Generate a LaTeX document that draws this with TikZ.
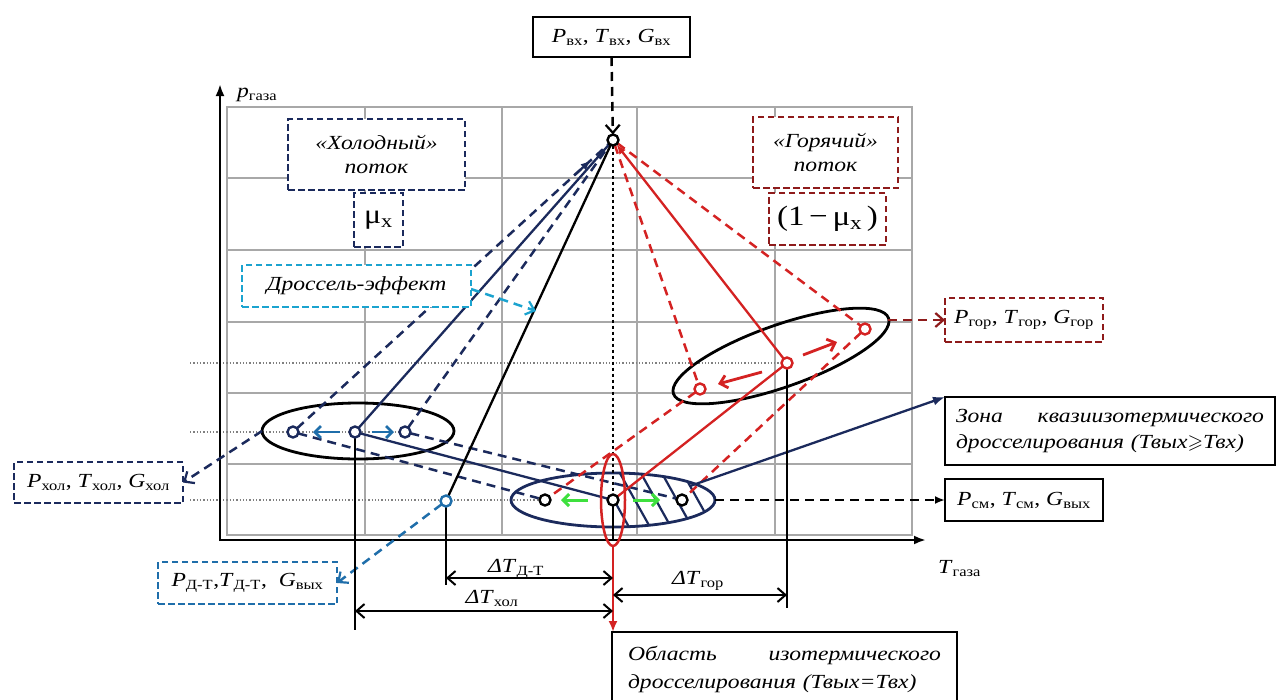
\documentclass[tikz,border=0pt]{standalone}
\usepackage{amssymb}
\usepackage{fontspec}
\setmainfont{Liberation Serif}[FakeStretch=1.18]
\usetikzlibrary{arrows.meta,calc}
\pgfdeclarelayer{paper}
\pgfdeclarelayer{gridlayer}
\pgfdeclarelayer{linelayer}
\pgfsetlayers{paper,gridlayer,linelayer,main}
\definecolor{cnavy}{HTML}{1B2A5C}
\definecolor{cdred}{HTML}{8E1B1B}
\definecolor{cred}{HTML}{D42222}
\definecolor{ccyan}{HTML}{1BA3CF}
\definecolor{cblue}{HTML}{1F6EAA}
\definecolor{cgreen}{HTML}{3EE03E}
\definecolor{cgrid}{HTML}{A8A8A8}
\newcommand\sbs[1]{\textsubscript{\upshape #1}}
\begin{document}
\begin{tikzpicture}[x=1pt,y=-1pt,
 every node/.style={font=\fontsize{20}{24}\selectfont, inner sep=0pt, outer sep=0pt},
 gridl/.style={cgrid, line width=1.3},
 dotl/.style={gray, line width=1.3, dotted},
 box/.style={draw, line width=2.6, fill=white, align=center},
 dbox/.style={box, dash pattern=on 6.5pt off 3.5pt},
 pt/.style={circle, draw, line width=2.4, fill=white, minimum size=11, inner sep=0pt},
 ln/.style={line width=2.3},
 dl/.style={line width=2.5, dash pattern=on 9pt off 6pt},
 barb/.style={-{Straight Barb[length=8pt,width=14pt,line width=2.2pt]}},
 tri/.style={-{Latex[length=10pt,width=8pt]}},
 dim/.style={line width=2, {Straight Barb[length=8pt,width=14pt]}-{Straight Barb[length=8pt,width=14pt]}},
]
\useasboundingbox (0,0) rectangle (1279,699);
\begin{pgfonlayer}{paper}
\fill[white] (0,0) rectangle (1279,699);
\end{pgfonlayer}

% ---------- grid ----------
\begin{pgfonlayer}{gridlayer}
\foreach \x in {365,502,637,775} \draw[gridl] (\x,107) -- (\x,535);
\foreach \y in {178,250,322,393,464} \draw[gridl] (227,\y) -- (912,\y);
\draw[gridl] (227,107) rectangle (912,535);
\draw[dotl] (190,363) -- (787,363);
\draw[dotl] (190,432) -- (405,432);
\draw[dotl] (190,500) -- (545,500);
\end{pgfonlayer}

% ---------- points ----------
\node[pt] (T0) at (613,140) {};
\node[pt, draw=cnavy] (CL) at (293,432) {};
\node[pt, draw=cnavy] (CC) at (355,432) {};
\node[pt, draw=cnavy] (CR) at (405,432) {};
\node[pt] (ML) at (545,500) {};
\node[pt] (MC) at (613,500) {};
\node[pt] (MR) at (682,500) {};
\node[pt, draw=cred] (HL) at (700,389) {};
\node[pt, draw=cred] (HC) at (787,363) {};
\node[pt, draw=cred] (HR) at (865,329) {};
\node[pt, draw=cblue] (DT) at (446,501) {};

% ---------- boxes ----------
\node[box, minimum width=157, minimum height=40] (top) at (611.5,37)
  {\textit{P}\sbs{вх}, \textit{T}\sbs{вх}, \textit{G}\sbs{вх}};
\node[dbox, draw=cnavy, minimum width=177, minimum height=71] (cold) at (376.5,154.5)
  {\textit{«Холодный»}\\\textit{поток}};
\node[dbox, draw=cnavy, minimum width=49, minimum height=54, font=\fontsize{27}{28}\selectfont] (mux) at (378.5,220)
  {μ\sbs{x}};
\node[dbox, draw=cdred, minimum width=145, minimum height=71] (hot) at (825.5,152.5)
  {\textit{«Горячий»}\\\textit{поток}};
\node[dbox, draw=cdred, minimum width=117, minimum height=52, font=\fontsize{28}{30}\selectfont] (omx) at (827.5,219)
  {(1\,−\,μ\sbs{x}\,)};
\node[dbox, draw=ccyan, minimum width=229, minimum height=42] (dross) at (356.5,286)
  {\textit{Дроссель-эффект}};
\node[dbox, draw=cnavy, minimum width=169, minimum height=41] (pxol) at (98.5,482.5)
  {\textit{P}\sbs{хол}, \textit{T}\sbs{хол}, \textit{G}\sbs{хол}};
\node[dbox, draw=cblue, minimum width=179, minimum height=42] (pdt) at (247.5,583)
  {\textit{P}\sbs{Д-Т},\textit{T}\sbs{Д-Т},\ \ \textit{G}\sbs{вых}};
\node[dbox, draw=cdred, minimum width=158, minimum height=44] (pgor) at (1024,320)
  {\textit{P}\sbs{гор}, \textit{T}\sbs{гор}, \textit{G}\sbs{гор}};
\node[box, anchor=north west, minimum height=68, text width=308, inner xsep=11, align=left,
  font=\fontsize{20}{26}\selectfont\itshape] (zone) at (945,397)
  {Зона\hfill квазиизотермического\\дросселирования (Твых$\geqslant$Твх)};
\node[box, minimum width=158, minimum height=42] (psm) at (1024,500)
  {\textit{P}\sbs{см}, \textit{T}\sbs{см}, \textit{G}\sbs{вых}};
\node[box, anchor=north west, minimum height=75, text width=313, inner xsep=16, align=left,
  font=\fontsize{20}{28}\selectfont\itshape] (obl) at (612,632)
  {Область\hfill изотермического\\дросселирования (Твых=Твх)};

% ---------- labels ----------
\node[anchor=base west] (py) at (237,97) {\textit{p}\sbs{газа}};
\node[anchor=base west] (tx) at (938,573) {\textit{T}\sbs{газа}};
\node[anchor=base] (ldt) at (516,572) {\textit{ΔT}\sbs{Д-Т}};
\node[anchor=base] (lxol) at (492,603) {\textit{ΔT}\sbs{хол}};
\node[anchor=base] (lgor) at (698,584) {\textit{ΔT}\sbs{гор}};

% ---------- lines ----------
\begin{pgfonlayer}{linelayer}
\coordinate (cW) at (262,431);
\coordinate (hE) at (888,320);
\coordinate (mE) at (715,500);
\coordinate (mZ) at (690,486);
\coordinate (rB) at (613,546);
\coordinate (xa) at (613,540);
\coordinate (drA) at (536,311);
\coordinate (yA0) at (220,541);
\coordinate (yA1) at (220,84);
\coordinate (xA0) at (219,540);
\coordinate (xA1) at (926,540);

% axes
\draw[line width=2.6, -{Latex[length=12pt,width=9pt]}] (yA0) -- (yA1);
\draw[line width=2.6, -{Latex[length=12pt,width=9pt]}] (xA0) -- (xA1);

% ellipses
\draw[line width=2.8] (358,431) ellipse [x radius=96, y radius=28];
\draw[line width=2.8, rotate around={19.4:(781,356)}] (781,356) ellipse [x radius=114, y radius=31];
\begin{scope}
 \clip (613,440) rectangle (720,540);
 \clip (613,500) ellipse [x radius=102, y radius=27];
 \foreach \x in {596,617,638,659,680,701} \draw[cnavy, line width=2.2] (\x,468) -- ++(38,68);
\end{scope}
\draw[cnavy, line width=2.8] (613,500) ellipse [x radius=102, y radius=27];

% input
\draw[dl, barb] (top.south) -- (T0);
\draw[line width=1.5, dash pattern=on 3.5pt off 2.5pt] (T0) -- (MC);
\draw[ln] (MC) -- (xa);

% cold side
\draw[cnavy, dl] (CL) -- (T0);
\draw[cnavy, ln, tri] ($(CL)!0.88!(T0)$) -- ($(CL)!0.93!(T0)$);
\draw[cnavy, ln] (CC) -- (T0);
\draw[cnavy, dl] (CR) -- (T0);
\draw[cnavy, ln] (CC) -- (MC);
\draw[cnavy, dl] (CL) -- (ML);
\draw[cnavy, dl] (CR) -- (MR);
\draw[cnavy, dl, barb] (cW) -- (pxol.east);
\draw[cblue, line width=2.8, -{Straight Barb[length=6pt,width=12pt]}] (340,432) -- (313,432);
\draw[cblue, line width=2.8, -{Straight Barb[length=6pt,width=12pt]}] (372,432) -- (394,432);

% throttle
\draw[ln] (DT) -- (T0);
\draw[cblue, dl, barb] (DT) -- (pdt.east);
\draw[ccyan, dl, barb] ($(dross.east)+(0,3)$) -- (drA);

% hot side
\draw[cred, ln, tri] (HC) -- (T0);
\draw[cred, ln] (HC) -- (MC);
\draw[cred, dl] (T0) -- (HL);
\draw[cred, dl] (T0) -- (HR);
\draw[cred, dl] (HL) -- (ML);
\draw[cred, dl] (HR) -- (MR);
\draw[cred, line width=2.8, -{Straight Barb[length=7pt,width=13pt]}] (762,372) -- (718,384);
\draw[cred, line width=2.8, -{Straight Barb[length=7pt,width=13pt]}] (803,355) -- (837,342);
\draw[cdred, dl, barb] (hE) -- (pgor.west);

% mixing
\draw[cgreen, line width=3, -{Straight Barb[length=6pt,width=12pt]}] (588,500) -- (561,500);
\draw[cgreen, line width=3, -{Straight Barb[length=6pt,width=12pt]}] (633,500) -- (660,500);
\draw[cred, line width=2.5] (613,500) ellipse [x radius=12, y radius=46];
\draw[cnavy, ln, -{Latex[length=12pt,width=9pt]}] (mZ) -- (zone.north west);
\draw[dl, tri] (mE) -- (psm.west);
\draw[cred, line width=2.8, -{Latex[length=11pt,width=9pt]}] (rB) -- ($(obl.north west)+(1,0)$);

% dimensions
\coordinate (dC) at (355,630);
\coordinate (dD) at (446,585);
\coordinate (dH) at (787,608);
\draw[ln] (CC) -- (dC);
\draw[ln] (DT) -- (dD);
\draw[ln] (HC) -- (dH);
\coordinate (a1) at (446,578); \coordinate (a2) at (613,578);
\coordinate (b1) at (355,611); \coordinate (b2) at (613,611);
\coordinate (c1) at (613,595); \coordinate (c2) at (787,595);
\draw[dim] (a1) -- (a2);
\draw[dim] (b1) -- (b2);
\draw[dim] (c1) -- (c2);
\end{pgfonlayer}
\end{tikzpicture}
\end{document}
